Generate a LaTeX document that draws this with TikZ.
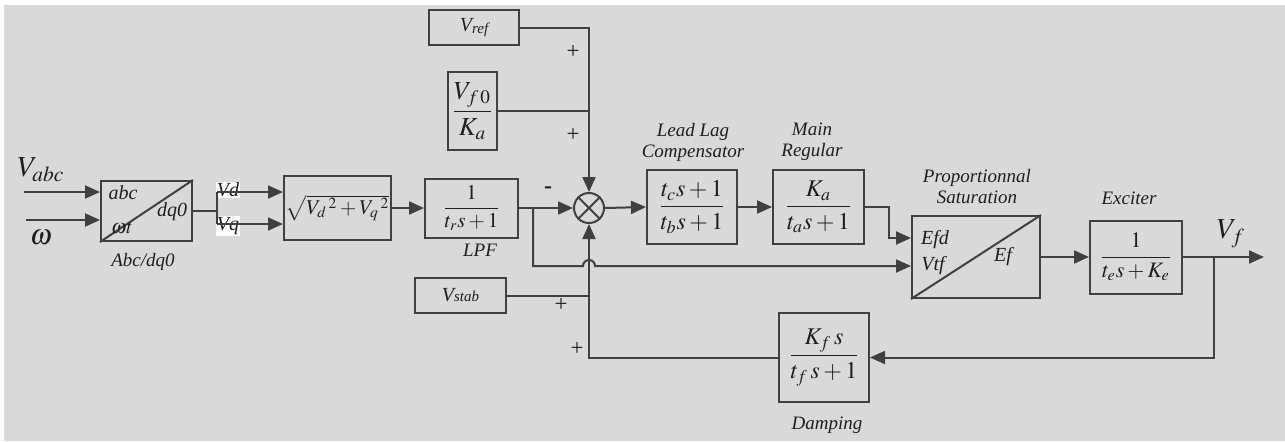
\documentclass[tikz,border=0pt]{standalone}
\usepackage{mathptmx}
\usepackage{fontspec}
\setmainfont{Liberation Serif}
\usetikzlibrary{arrows.meta}
\definecolor{bgc}{HTML}{D9D9D9}
\definecolor{lc}{HTML}{404040}
\definecolor{tc}{HTML}{1E1E1E}
\begin{document}
\begin{tikzpicture}[x=0.5pt,y=-0.5pt,
  blk/.style={draw=lc,line width=1pt,inner sep=0pt,text=tc},
  ln/.style={draw=lc,line width=1pt},
  arr/.style={draw=lc,line width=1pt,-{Triangle[length=7.5pt,width=6.5pt]}},
  lab/.style={inner sep=0pt,text=tc,font=\fontsize{9.5}{11}\selectfont\itshape,align=center},
  inl/.style={inner sep=0pt,text=tc,font=\fontsize{10}{12}\selectfont\itshape},
  sgn/.style={inner sep=0pt,text=tc,font=\fontsize{11.5}{12}\selectfont}]
% background
\fill[white] (0,0) rectangle (1285,441);
\fill[bgc] (4,5) rectangle (1285,441);
\useasboundingbox (0,0) rectangle (1285,441);

% ---------- blocks ----------
\node[blk,minimum width=45.5pt,minimum height=30pt] (abc) at (146.5,211) {};
\draw[ln] (abc.south west) -- (abc.north east);
\node[inl] (abcin) at (123,193) {abc};
\node[inl] (wt) at (122,228) {$\omega t$};
\node[inl] (dq) at (172,212) {dq0};
\node[lab] (abclab) at (143,262) {Abc/dq0};

\node[blk,minimum width=53.5pt,minimum height=32pt] (sqrt) at (337.5,208)
  {\fontsize{10.5}{12}\selectfont$\sqrt{V_d{}^{\,2}+V_q{}^{\,2}}$};

\node[blk,minimum width=46.5pt,minimum height=29.5pt] (lpf) at (471.5,208)
  {\fontsize{10.5}{12}\selectfont$\displaystyle\frac{1}{t_r s+1}$};
\node[lab] (lpflab) at (480,250) {LPF};

\node[blk,circle,minimum size=15pt] (sum) at (589,208) {};
\draw[ln] (sum.north west) -- (sum.south east);
\draw[ln] (sum.north east) -- (sum.south west);

\node[blk,minimum width=45pt,minimum height=17.5pt] (vref) at (474,27.5)
  {\fontsize{10}{12}\selectfont\itshape V\raisebox{-0.3ex}{\fontsize{7.5}{8}\selectfont ref}};

\node[blk,minimum width=24.5pt,minimum height=39pt] (vfka) at (472.5,111)
  {\fontsize{13}{15}\selectfont$\displaystyle\frac{V_{f\,0}}{K_a}$};

\node[blk,minimum width=45.5pt,minimum height=17.5pt] (vstab) at (460.5,295.5)
  {\fontsize{10}{12}\selectfont\itshape V{\fontsize{7.5}{8}\selectfont stab}};

\node[blk,minimum width=45pt,minimum height=37pt] (lead) at (692,207)
  {\fontsize{12}{14}\selectfont$\displaystyle\frac{t_c s+1}{t_b s+1}$};
\node[lab] (leadlab) at (693,142) {Lead Lag\\[-0.5pt]Compensator};

\node[blk,minimum width=45.5pt,minimum height=37pt] (main) at (818.5,207)
  {\fontsize{12}{14}\selectfont$\displaystyle\frac{K_a}{t_a s+1}$};
\node[lab] (mainlab) at (812,142) {Main\\[-0.5pt]Regular};

\node[blk,minimum width=64pt,minimum height=41pt] (prop) at (976,257) {};
\draw[ln] (prop.south west) -- (prop.north east);
\node[inl] (efd) at (935,240) {Efd};
\node[inl] (vtf) at (933,266) {Vtf};
\node[inl] (ef) at (1003,257) {Ef};
\node[lab] (proplab) at (977,187) {Proportionnal\\[-0.5pt]Saturation};

\node[blk,minimum width=46pt,minimum height=36.5pt] (exc) at (1136,257)
  {\fontsize{11}{13}\selectfont$\displaystyle\frac{1}{t_e s+K_e}$};
\node[lab] (exclab) at (1129,198) {Exciter};

\node[blk,minimum width=45pt,minimum height=44.5pt] (damp) at (824,357.5)
  {\fontsize{12}{14}\selectfont$\displaystyle\frac{K_f\, s}{t_f\, s+1}$};
\node[lab] (damplab) at (827,425) {Damping};

% ---------- free ends ----------
\coordinate (vabcin) at (24,192);
\coordinate (win) at (26,220);
\coordinate (spT) at (217,192);
\coordinate (spB) at (217,224);
\coordinate (spM) at (217,211);
\coordinate (br1) at (533,208);
\coordinate (hopL) at (583,266);
\coordinate (kink) at (889,238);
\coordinate (fb) at (1214,257);
\coordinate (vfout) at (1264,257);

% input labels
\node[inl,font=\fontsize{14.5}{16}\selectfont] (vabclab) at (41,170) {$V_{abc}$};
\node[inl,font=\fontsize{14.5}{16}\selectfont] (wlab) at (41,238) {$\omega$};
\node[inl,fill=white,inner sep=0.6pt] (vdlab) at (228,190) {Vd};
\node[inl,fill=white,inner sep=0.6pt] (vqlab) at (228,226) {Vq};
\node[inl,font=\fontsize{14.5}{16}\selectfont] (vflab) at (1231,234) {$V_f$};

% ---------- connectors ----------
\draw[arr] (vabcin) -- (vabcin -| abc.west);
\draw[arr] (win) -- (win -| abc.west);
\draw[ln] (abc.east |- spM) -- (spM);
\draw[ln] (spT) -- (spB);
\draw[arr] (spT) -- (spT -| sqrt.west);
\draw[arr] (spB) -- (spB -| sqrt.west);
\draw[arr] (sqrt.east) -- (lpf.west);
\draw[arr] (lpf.east) -- (sum.west);
\draw[arr] (br1) |- (hopL) arc[start angle=180,end angle=0,radius=3pt] -- (hopL -| prop.west);
\draw[arr] (vref.east) -| (sum.north);
\draw[ln] (vfka.east) -- (vfka.east -| sum);
\draw[ln] (vstab.east) -- (vstab.east -| sum);
\draw[arr] (damp.west) -| (sum.south);
\draw[arr] (sum.east) -- (lead.west);
\draw[arr] (lead.east) -- (main.west);
\draw[arr] (main.east) -| (kink) -- (kink -| prop.west);
\draw[arr] (prop.east) -- (exc.west);
\draw[arr] (exc.east) -- (vfout);
\draw[arr] (fb) |- (damp.east);

% signs
\node[sgn,font=\fontsize{12}{12}\selectfont\bfseries] (minus) at (548,190) {-};
\node[sgn] (p1) at (573,52) {+};
\node[sgn] (p2) at (573,135) {+};
\node[sgn] (p3) at (561,305) {+};
\node[sgn] (p4) at (577,349) {+};
\end{tikzpicture}
\end{document}
